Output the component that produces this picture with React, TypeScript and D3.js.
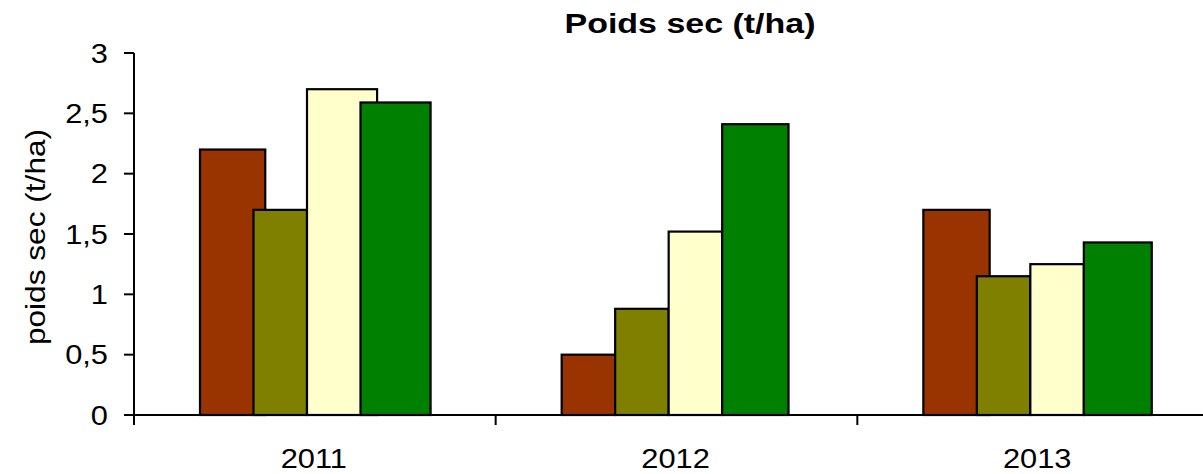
import React from "react";
import * as d3 from "d3";

const categories = ["2011", "2012", "2013"];
const seriesNames = ["S1", "S2", "S3", "S4"];
const values2011 = [2.2, 1.7, 2.7, 2.59];
const values2012 = [0.5, 0.88, 1.52, 2.41];
const values2013 = [1.7, 1.15, 1.25, 1.43];
const yTicks = [0, 0.5, 1, 1.5, 2, 2.5, 3];
const title = "Poids sec (t/ha)";
const yLabel = "poids sec (t/ha)";

const colors = ["#993300", "#808000", "#FFFFCC", "#008000"];
// visual widening of some bars (source chart draws overlapping bars)
const widen = [
  [1.22, 1, 1.31, 1.31],
  [1, 1, 1, 1.24],
  [1.24, 1, 1, 1.27],
];

export default function App() {
  const W = 1203, H = 474;
  const left = 134, right = 1219, top = 53, bottom = 415;
  const data = [values2011, values2012, values2013];
  const x = d3.scaleBand<string>().domain(categories).range([left, right]).padding(0);
  const xs = d3.scaleBand<string>().domain(seriesNames).range([66, 66 + 4 * 53.5]).padding(0);
  const y = d3.scaleLinear().domain([0, 3]).range([bottom, top]);
  const fmt = (v: number) => String(v).replace(".", ",");
  const font = "Liberation Sans, Arial, sans-serif";
  const tickPositions = [...categories.map((c) => x(c)!), right];
  const sx = 1.1;
  return (
    <svg width={W} height={H} style={{ position: "absolute", left: 0, top: 0, background: "#fff" }}>
      <text x={690} y={33} textAnchor="middle" fontFamily={font} fontWeight="bold" fontSize={28}
        textLength={251} lengthAdjust="spacingAndGlyphs">{title}</text>
      <text transform={`translate(45,${237}) rotate(-90) scale(1.13,1)`} textAnchor="middle" fontFamily={font} fontSize={28}>{yLabel}</text>
      {data.map((vals, ci) =>
        vals.map((v, si) => {
          const x0 = x(categories[ci])! + xs(seriesNames[si])!;
          const w = xs.bandwidth() * widen[ci][si];
          return (
            <rect key={`${ci}-${si}`} x={x0} y={y(v)} width={w} height={y(0) - y(v)}
              fill={colors[si]} stroke="#000" strokeWidth={2.2} />
          );
        })
      )}
      <line x1={left} x2={left} y1={top} y2={bottom} stroke="#000" strokeWidth={2} />
      {yTicks.map((t) => (
        <g key={t}>
          <line x1={left - 10} x2={left} y1={y(t)} y2={y(t)} stroke="#000" strokeWidth={2} />
          <text transform={`translate(108,${y(t)}) scale(${sx},1)`} dy="0.35em" textAnchor="end" fontFamily={font} fontSize={28}>{fmt(t)}</text>
        </g>
      ))}
      <line x1={left} x2={right} y1={bottom} y2={bottom} stroke="#000" strokeWidth={2} />
      {tickPositions.map((p, i) => (
        <line key={i} x1={p} x2={p} y1={bottom} y2={bottom + 10} stroke="#000" strokeWidth={2} />
      ))}
      {categories.map((c) => (
        <text key={c} transform={`translate(${x(c)! + x.bandwidth() / 2 - 1},468) scale(${sx},1)`} textAnchor="middle" fontFamily={font} fontSize={28}>{c}</text>
      ))}
    </svg>
  );
}
